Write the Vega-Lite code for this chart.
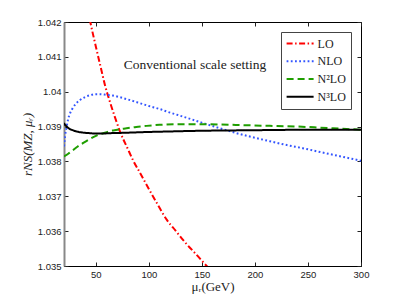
{
  "$schema": "https://vega.github.io/schema/vega-lite/v6.json",
  "width": 297,
  "height": 244,
  "autosize": {"type": "none"},
  "padding": {"left": 64, "top": 22, "right": 38, "bottom": 34},
  "background": "white",
  "config": {
    "view": {"stroke": "black", "strokeWidth": 1},
    "axis": {"grid": false, "labelFont": "Liberation Sans", "labelFontSize": 9.5, "labelColor": "#222", "tickColor": "#222", "tickSize": -4, "titleFont": "Liberation Serif", "titleFontStyle": "italic", "titleFontWeight": "normal", "titleFontSize": 13, "titleColor": "#222"}
  },
  "datasets": {
    "curves": [
      {"series": "LO", "mu": 42, "r": 1.04243},
      {"series": "LO", "mu": 44.8, "r": 1.042},
      {"series": "LO", "mu": 50, "r": 1.0413},
      {"series": "LO", "mu": 54, "r": 1.04078},
      {"series": "LO", "mu": 58.7, "r": 1.04018},
      {"series": "LO", "mu": 64, "r": 1.03964},
      {"series": "LO", "mu": 68, "r": 1.03927},
      {"series": "LO", "mu": 73, "r": 1.03884},
      {"series": "LO", "mu": 80, "r": 1.03837},
      {"series": "LO", "mu": 85.3, "r": 1.03802},
      {"series": "LO", "mu": 91.7, "r": 1.03767},
      {"series": "LO", "mu": 100, "r": 1.03721},
      {"series": "LO", "mu": 108, "r": 1.03678},
      {"series": "LO", "mu": 116.8, "r": 1.03633},
      {"series": "LO", "mu": 125, "r": 1.03602},
      {"series": "LO", "mu": 135, "r": 1.03565},
      {"series": "LO", "mu": 145, "r": 1.03532},
      {"series": "LO", "mu": 153, "r": 1.03505},
      {"series": "LO", "mu": 160, "r": 1.03483},
      {"series": "NLO", "mu": 20, "r": 1.03843},
      {"series": "NLO", "mu": 21, "r": 1.03872},
      {"series": "NLO", "mu": 22.5, "r": 1.039},
      {"series": "NLO", "mu": 24, "r": 1.03922},
      {"series": "NLO", "mu": 25.7, "r": 1.03938},
      {"series": "NLO", "mu": 28, "r": 1.03952},
      {"series": "NLO", "mu": 31, "r": 1.03965},
      {"series": "NLO", "mu": 35, "r": 1.03976},
      {"series": "NLO", "mu": 40, "r": 1.03985},
      {"series": "NLO", "mu": 44.5, "r": 1.0399},
      {"series": "NLO", "mu": 50, "r": 1.03993},
      {"series": "NLO", "mu": 54, "r": 1.03993},
      {"series": "NLO", "mu": 60, "r": 1.03991},
      {"series": "NLO", "mu": 66, "r": 1.03989},
      {"series": "NLO", "mu": 73, "r": 1.03984},
      {"series": "NLO", "mu": 80, "r": 1.03978},
      {"series": "NLO", "mu": 91.7, "r": 1.03967},
      {"series": "NLO", "mu": 100, "r": 1.03959},
      {"series": "NLO", "mu": 110.5, "r": 1.0395},
      {"series": "NLO", "mu": 120, "r": 1.0394},
      {"series": "NLO", "mu": 127.5, "r": 1.03933},
      {"series": "NLO", "mu": 140, "r": 1.03921},
      {"series": "NLO", "mu": 151, "r": 1.0391},
      {"series": "NLO", "mu": 165, "r": 1.03897},
      {"series": "NLO", "mu": 182.8, "r": 1.03881},
      {"series": "NLO", "mu": 200, "r": 1.03868},
      {"series": "NLO", "mu": 214, "r": 1.03858},
      {"series": "NLO", "mu": 230, "r": 1.03847},
      {"series": "NLO", "mu": 245, "r": 1.03838},
      {"series": "NLO", "mu": 260, "r": 1.03828},
      {"series": "NLO", "mu": 280, "r": 1.03815},
      {"series": "NLO", "mu": 300, "r": 1.03802},
      {"series": "N²LO", "mu": 20, "r": 1.03814},
      {"series": "N²LO", "mu": 24, "r": 1.03822},
      {"series": "N²LO", "mu": 28.8, "r": 1.03833},
      {"series": "N²LO", "mu": 33, "r": 1.03843},
      {"series": "N²LO", "mu": 38.2, "r": 1.03853},
      {"series": "N²LO", "mu": 43, "r": 1.03862},
      {"series": "N²LO", "mu": 47.6, "r": 1.0387},
      {"series": "N²LO", "mu": 52, "r": 1.03876},
      {"series": "N²LO", "mu": 57, "r": 1.03881},
      {"series": "N²LO", "mu": 62, "r": 1.03886},
      {"series": "N²LO", "mu": 66.5, "r": 1.03889},
      {"series": "N²LO", "mu": 72, "r": 1.03892},
      {"series": "N²LO", "mu": 79, "r": 1.03895},
      {"series": "N²LO", "mu": 88, "r": 1.03899},
      {"series": "N²LO", "mu": 98, "r": 1.03902},
      {"series": "N²LO", "mu": 110, "r": 1.03905},
      {"series": "N²LO", "mu": 126, "r": 1.03907},
      {"series": "N²LO", "mu": 145, "r": 1.03907},
      {"series": "N²LO", "mu": 167, "r": 1.03906},
      {"series": "N²LO", "mu": 190, "r": 1.03904},
      {"series": "N²LO", "mu": 214, "r": 1.03902},
      {"series": "N²LO", "mu": 240, "r": 1.039},
      {"series": "N²LO", "mu": 261, "r": 1.03897},
      {"series": "N²LO", "mu": 286.5, "r": 1.03893},
      {"series": "N²LO", "mu": 300, "r": 1.03891},
      {"series": "N³LO", "mu": 20, "r": 1.0391},
      {"series": "N³LO", "mu": 21, "r": 1.03905},
      {"series": "N³LO", "mu": 22.5, "r": 1.039},
      {"series": "N³LO", "mu": 25, "r": 1.03894},
      {"series": "N³LO", "mu": 28.8, "r": 1.03889},
      {"series": "N³LO", "mu": 32, "r": 1.03886},
      {"series": "N³LO", "mu": 35, "r": 1.03884},
      {"series": "N³LO", "mu": 40, "r": 1.03882},
      {"series": "N³LO", "mu": 44.5, "r": 1.03881},
      {"series": "N³LO", "mu": 50, "r": 1.0388},
      {"series": "N³LO", "mu": 56, "r": 1.0388},
      {"series": "N³LO", "mu": 63, "r": 1.03881},
      {"series": "N³LO", "mu": 75, "r": 1.03882},
      {"series": "N³LO", "mu": 94.5, "r": 1.03884},
      {"series": "N³LO", "mu": 120, "r": 1.03886},
      {"series": "N³LO", "mu": 150, "r": 1.03888},
      {"series": "N³LO", "mu": 180, "r": 1.03889},
      {"series": "N³LO", "mu": 214, "r": 1.0389},
      {"series": "N³LO", "mu": 250, "r": 1.03891},
      {"series": "N³LO", "mu": 300, "r": 1.03891}
    ],
    "note": [{"mu": 143.5, "r": 1.04077, "text": "Conventional scale setting"}]
  },
  "layer": [
    {
      "data": {"name": "curves"},
      "mark": {"type": "line", "clip": true, "strokeWidth": 2, "interpolate": "monotone"},
      "encoding": {
        "x": {"field": "mu", "type": "quantitative", "scale": {"domain": [20, 300], "nice": false, "zero": false},
          "axis": {"orient": "bottom", "values": [50, 100, 150, 200, 250, 300], "title": "μᵣ(GeV)", "titleFontStyle": "normal", "domainColor": "black", "labelPadding": 7, "titlePadding": 2, "labelFlush": false}},
        "y": {"field": "r", "type": "quantitative", "scale": {"domain": [1.035, 1.042], "nice": false, "zero": false},
          "axis": {"orient": "left", "values": [1.035, 1.036, 1.037, 1.038, 1.039, 1.04, 1.041, 1.042], "format": "~g", "title": "rNS(MZ, μᵣ)", "domainColor": "#888", "domainWidth": 2, "labelPadding": 7, "titlePadding": 3, "labelFlush": false}},
        "color": {"field": "series", "type": "nominal",
          "scale": {"domain": ["LO", "NLO", "N²LO", "N³LO"], "range": ["#ff0000", "#3355ff", "#1f9e00", "#000000"]},
          "legend": {"title": null, "orient": "none", "legendX": 217, "legendY": 10, "symbolType": "stroke", "symbolSize": 729, "symbolStrokeWidth": 2, "clipHeight": 14, "rowPadding": 3.7, "padding": 4.6, "labelOffset": 3, "labelFont": "Liberation Serif", "labelFontSize": 12, "labelColor": "#222", "strokeColor": "#444", "fillColor": "white"}},
        "strokeDash": {"field": "series", "type": "nominal",
          "scale": {"domain": ["LO", "NLO", "N²LO", "N³LO"], "range": [[6, 2.5, 1.5, 2.5], [1.8, 2.4], [7, 4], [1, 0]]}}
      }
    },
    {
      "data": {"name": "note"},
      "mark": {"type": "text", "font": "Liberation Serif", "fontSize": 13.5, "color": "#222"},
      "encoding": {
        "x": {"field": "mu", "type": "quantitative", "axis": null},
        "y": {"field": "r", "type": "quantitative", "axis": null},
        "text": {"field": "text"}
      }
    },
    {
      "data": {"name": "note"},
      "mark": {"type": "point", "opacity": 0},
      "encoding": {
        "x": {"field": "mu", "type": "quantitative", "axis": {"orient": "top", "values": [50, 100, 150, 200, 250, 300], "labels": false, "title": null, "domain": false}},
        "y": {"field": "r", "type": "quantitative", "axis": {"orient": "right", "values": [1.035, 1.036, 1.037, 1.038, 1.039, 1.04, 1.041, 1.042], "labels": false, "title": null, "domain": false}}
      }
    }
  ],
  "resolve": {"axis": {"x": "independent", "y": "independent"}}
}
